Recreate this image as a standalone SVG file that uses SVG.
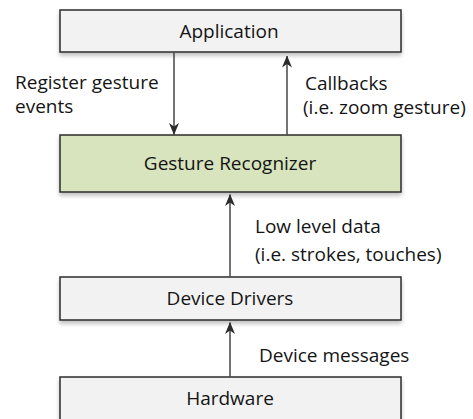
<svg xmlns="http://www.w3.org/2000/svg" width="473" height="419" viewBox="0 0 473 419">
  <style>
    .box { stroke: #2b2b2b; stroke-width: 1.5; }
    .gray { fill: #f2f2f2; }
    .green { fill: #d7e4bd; }
    .lbl { font-family: "Open Sans", "Liberation Sans", sans-serif; font-size: 19px; fill: #141414; }
    .mid { text-anchor: middle; }
    .conn { stroke: #3a3a3a; stroke-width: 1.4; fill: none; marker-end: url(#arrow); }
  </style>
  <defs>
    <marker id="arrow" viewBox="0 0 12 11" refX="11.5" refY="5.5" markerWidth="12" markerHeight="11" markerUnits="userSpaceOnUse" orient="auto">
      <path d="M0,0.5 L12,5.5 L0,10.5 L3.5,5.5 Z" fill="#2b2b2b"/>
    </marker>
    <filter id="shadow" x="-5%" y="-20%" width="110%" height="150%">
      <feGaussianBlur in="SourceAlpha" stdDeviation="2"/>
      <feOffset dx="0" dy="2.5" result="b"/>
      <feComponentTransfer><feFuncA type="linear" slope="0.25"/></feComponentTransfer>
      <feMerge><feMergeNode/><feMergeNode in="SourceGraphic"/></feMerge>
    </filter>
  </defs>
  <rect width="473" height="419" fill="#ffffff"/>

  <g id="application">
    <rect class="box gray" x="60" y="10" width="341" height="42" filter="url(#shadow)"/>
    <text class="lbl mid" x="229" y="37.5">Application</text>
  </g>
  <g id="gesture-recognizer">
    <rect class="box green" x="60" y="135" width="341" height="57" filter="url(#shadow)"/>
    <text class="lbl mid" x="230" y="170">Gesture Recognizer</text>
  </g>
  <g id="device-drivers">
    <rect class="box gray" x="60" y="277" width="341" height="43" filter="url(#shadow)"/>
    <text class="lbl mid" x="230" y="305">Device Drivers</text>
  </g>
  <g id="hardware">
    <rect class="box gray" x="60" y="377" width="341" height="60" filter="url(#shadow)"/>
    <text class="lbl mid" x="230" y="405">Hardware</text>
  </g>

  <g id="connectors">
    <line class="conn" x1="174" y1="52.8" x2="174" y2="134.5"/>
    <line class="conn" x1="287" y1="134.5" x2="287" y2="56"/>
    <line class="conn" x1="230" y1="276.5" x2="230" y2="194.5"/>
    <line class="conn" x1="230" y1="376.5" x2="230" y2="322.5"/>
  </g>

  <g id="labels">
    <text class="lbl" x="15" y="89">Register gesture</text>
    <text class="lbl" x="15" y="113">events</text>
    <text class="lbl" x="305" y="90">Callbacks</text>
    <text class="lbl" x="303" y="114">(i.e. zoom gesture)</text>
    <text class="lbl" x="255" y="233">Low level data</text>
    <text class="lbl" x="255" y="261">(i.e. strokes, touches)</text>
    <text class="lbl" x="259" y="362">Device messages</text>
  </g>
</svg>
